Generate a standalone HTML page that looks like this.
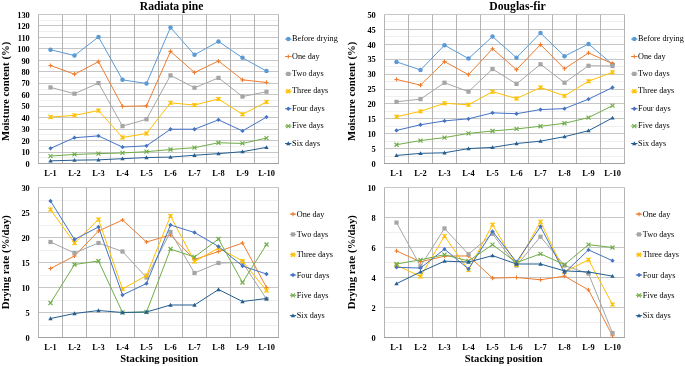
<!DOCTYPE html>
<html><head><meta charset="utf-8"><title>Chart</title>
<style>
html,body{margin:0;padding:0;background:#fff;}
svg{display:block;will-change:transform;}
text{font-family:"Liberation Serif", serif;fill:#000;}
</style></head>
<body>
<svg width="685" height="366" viewBox="0 0 685 366">
<rect width="685" height="366" fill="#fff"/>
<line x1="38.5" x2="278.5" y1="157.50" y2="157.50" stroke="#efefef" stroke-width="1"/>
<line x1="38.5" x2="278.5" y1="146.50" y2="146.50" stroke="#efefef" stroke-width="1"/>
<line x1="38.5" x2="278.5" y1="134.50" y2="134.50" stroke="#efefef" stroke-width="1"/>
<line x1="38.5" x2="278.5" y1="123.50" y2="123.50" stroke="#efefef" stroke-width="1"/>
<line x1="38.5" x2="278.5" y1="111.50" y2="111.50" stroke="#efefef" stroke-width="1"/>
<line x1="38.5" x2="278.5" y1="100.50" y2="100.50" stroke="#efefef" stroke-width="1"/>
<line x1="38.5" x2="278.5" y1="89.50" y2="89.50" stroke="#efefef" stroke-width="1"/>
<line x1="38.5" x2="278.5" y1="77.50" y2="77.50" stroke="#efefef" stroke-width="1"/>
<line x1="38.5" x2="278.5" y1="66.50" y2="66.50" stroke="#efefef" stroke-width="1"/>
<line x1="38.5" x2="278.5" y1="54.50" y2="54.50" stroke="#efefef" stroke-width="1"/>
<line x1="38.5" x2="278.5" y1="43.50" y2="43.50" stroke="#efefef" stroke-width="1"/>
<line x1="38.5" x2="278.5" y1="31.50" y2="31.50" stroke="#efefef" stroke-width="1"/>
<line x1="38.5" x2="278.5" y1="20.50" y2="20.50" stroke="#efefef" stroke-width="1"/>
<line x1="38.5" x2="278.5" y1="152.50" y2="152.50" stroke="#c6c6c6" stroke-width="1"/>
<line x1="38.5" x2="278.5" y1="140.50" y2="140.50" stroke="#c6c6c6" stroke-width="1"/>
<line x1="38.5" x2="278.5" y1="129.50" y2="129.50" stroke="#c6c6c6" stroke-width="1"/>
<line x1="38.5" x2="278.5" y1="117.50" y2="117.50" stroke="#c6c6c6" stroke-width="1"/>
<line x1="38.5" x2="278.5" y1="106.50" y2="106.50" stroke="#c6c6c6" stroke-width="1"/>
<line x1="38.5" x2="278.5" y1="94.50" y2="94.50" stroke="#c6c6c6" stroke-width="1"/>
<line x1="38.5" x2="278.5" y1="83.50" y2="83.50" stroke="#c6c6c6" stroke-width="1"/>
<line x1="38.5" x2="278.5" y1="71.50" y2="71.50" stroke="#c6c6c6" stroke-width="1"/>
<line x1="38.5" x2="278.5" y1="60.50" y2="60.50" stroke="#c6c6c6" stroke-width="1"/>
<line x1="38.5" x2="278.5" y1="48.50" y2="48.50" stroke="#c6c6c6" stroke-width="1"/>
<line x1="38.5" x2="278.5" y1="37.50" y2="37.50" stroke="#c6c6c6" stroke-width="1"/>
<line x1="38.5" x2="278.5" y1="25.50" y2="25.50" stroke="#c6c6c6" stroke-width="1"/>
<line x1="38.5" x2="278.5" y1="14.50" y2="14.50" stroke="#c6c6c6" stroke-width="1"/>
<line x1="38.50" x2="38.50" y1="14.5" y2="163.5" stroke="#b4b4b4" stroke-width="1"/>
<line x1="62.50" x2="62.50" y1="14.5" y2="163.5" stroke="#b4b4b4" stroke-width="1"/>
<line x1="86.50" x2="86.50" y1="14.5" y2="163.5" stroke="#b4b4b4" stroke-width="1"/>
<line x1="110.50" x2="110.50" y1="14.5" y2="163.5" stroke="#b4b4b4" stroke-width="1"/>
<line x1="134.50" x2="134.50" y1="14.5" y2="163.5" stroke="#b4b4b4" stroke-width="1"/>
<line x1="158.50" x2="158.50" y1="14.5" y2="163.5" stroke="#b4b4b4" stroke-width="1"/>
<line x1="182.50" x2="182.50" y1="14.5" y2="163.5" stroke="#b4b4b4" stroke-width="1"/>
<line x1="206.50" x2="206.50" y1="14.5" y2="163.5" stroke="#b4b4b4" stroke-width="1"/>
<line x1="230.50" x2="230.50" y1="14.5" y2="163.5" stroke="#b4b4b4" stroke-width="1"/>
<line x1="254.50" x2="254.50" y1="14.5" y2="163.5" stroke="#b4b4b4" stroke-width="1"/>
<line x1="278.50" x2="278.50" y1="14.5" y2="163.5" stroke="#b4b4b4" stroke-width="1"/>
<line x1="38.0" x2="279.0" y1="163.5" y2="163.5" stroke="#a0a0a0" stroke-width="1"/>
<text x="29.8" y="166.70" text-anchor="end" font-size="8.4" font-weight="bold">0</text>
<text x="29.8" y="155.24" text-anchor="end" font-size="8.4" font-weight="bold">10</text>
<text x="29.8" y="143.78" text-anchor="end" font-size="8.4" font-weight="bold">20</text>
<text x="29.8" y="132.32" text-anchor="end" font-size="8.4" font-weight="bold">30</text>
<text x="29.8" y="120.85" text-anchor="end" font-size="8.4" font-weight="bold">40</text>
<text x="29.8" y="109.39" text-anchor="end" font-size="8.4" font-weight="bold">50</text>
<text x="29.8" y="97.93" text-anchor="end" font-size="8.4" font-weight="bold">60</text>
<text x="29.8" y="86.47" text-anchor="end" font-size="8.4" font-weight="bold">70</text>
<text x="29.8" y="75.01" text-anchor="end" font-size="8.4" font-weight="bold">80</text>
<text x="29.8" y="63.55" text-anchor="end" font-size="8.4" font-weight="bold">90</text>
<text x="29.8" y="52.08" text-anchor="end" font-size="8.4" font-weight="bold">100</text>
<text x="29.8" y="40.62" text-anchor="end" font-size="8.4" font-weight="bold">110</text>
<text x="29.8" y="29.16" text-anchor="end" font-size="8.4" font-weight="bold">120</text>
<text x="29.8" y="17.70" text-anchor="end" font-size="8.4" font-weight="bold">130</text>
<text x="50.50" y="175.8" text-anchor="middle" font-size="8.4" font-weight="bold">L-1</text>
<text x="74.50" y="175.8" text-anchor="middle" font-size="8.4" font-weight="bold">L-2</text>
<text x="98.50" y="175.8" text-anchor="middle" font-size="8.4" font-weight="bold">L-3</text>
<text x="122.50" y="175.8" text-anchor="middle" font-size="8.4" font-weight="bold">L-4</text>
<text x="146.50" y="175.8" text-anchor="middle" font-size="8.4" font-weight="bold">L-5</text>
<text x="170.50" y="175.8" text-anchor="middle" font-size="8.4" font-weight="bold">L-6</text>
<text x="194.50" y="175.8" text-anchor="middle" font-size="8.4" font-weight="bold">L-7</text>
<text x="218.50" y="175.8" text-anchor="middle" font-size="8.4" font-weight="bold">L-8</text>
<text x="242.50" y="175.8" text-anchor="middle" font-size="8.4" font-weight="bold">L-9</text>
<text x="266.50" y="175.8" text-anchor="middle" font-size="8.4" font-weight="bold">L-10</text>
<polyline points="50.50,49.69 74.50,55.53 98.50,36.96 122.50,79.83 146.50,83.50 170.50,27.45 194.50,54.84 218.50,41.43 242.50,57.82 266.50,71.12" fill="none" stroke="#5B9BD5" stroke-width="1" stroke-linejoin="round"/>
<circle cx="50.50" cy="49.69" r="2.25" fill="#5B9BD5"/>
<circle cx="74.50" cy="55.53" r="2.25" fill="#5B9BD5"/>
<circle cx="98.50" cy="36.96" r="2.25" fill="#5B9BD5"/>
<circle cx="122.50" cy="79.83" r="2.25" fill="#5B9BD5"/>
<circle cx="146.50" cy="83.50" r="2.25" fill="#5B9BD5"/>
<circle cx="170.50" cy="27.45" r="2.25" fill="#5B9BD5"/>
<circle cx="194.50" cy="54.84" r="2.25" fill="#5B9BD5"/>
<circle cx="218.50" cy="41.43" r="2.25" fill="#5B9BD5"/>
<circle cx="242.50" cy="57.82" r="2.25" fill="#5B9BD5"/>
<circle cx="266.50" cy="71.12" r="2.25" fill="#5B9BD5"/>
<polyline points="50.50,65.50 74.50,74.21 98.50,61.72 122.50,106.42 146.50,105.85 170.50,51.41 194.50,72.50 218.50,61.03 242.50,79.83 266.50,82.47" fill="none" stroke="#ED7D31" stroke-width="1" stroke-linejoin="round"/>
<path d="M48.40 65.50H52.60M50.50 63.40V67.60" stroke="#ED7D31" stroke-width="1.1" fill="none"/>
<path d="M72.40 74.21H76.60M74.50 72.11V76.31" stroke="#ED7D31" stroke-width="1.1" fill="none"/>
<path d="M96.40 61.72H100.60M98.50 59.62V63.82" stroke="#ED7D31" stroke-width="1.1" fill="none"/>
<path d="M120.40 106.42H124.60M122.50 104.32V108.52" stroke="#ED7D31" stroke-width="1.1" fill="none"/>
<path d="M144.40 105.85H148.60M146.50 103.75V107.95" stroke="#ED7D31" stroke-width="1.1" fill="none"/>
<path d="M168.40 51.41H172.60M170.50 49.31V53.51" stroke="#ED7D31" stroke-width="1.1" fill="none"/>
<path d="M192.40 72.50H196.60M194.50 70.40V74.60" stroke="#ED7D31" stroke-width="1.1" fill="none"/>
<path d="M216.40 61.03H220.60M218.50 58.93V63.13" stroke="#ED7D31" stroke-width="1.1" fill="none"/>
<path d="M240.40 79.83H244.60M242.50 77.73V81.93" stroke="#ED7D31" stroke-width="1.1" fill="none"/>
<path d="M264.40 82.47H268.60M266.50 80.37V84.57" stroke="#ED7D31" stroke-width="1.1" fill="none"/>
<polyline points="50.50,87.40 74.50,93.70 98.50,83.04 122.50,126.14 146.50,119.26 170.50,75.36 194.50,87.74 218.50,77.88 242.50,96.56 266.50,91.75" fill="none" stroke="#A5A5A5" stroke-width="1" stroke-linejoin="round"/>
<rect x="48.40" y="85.30" width="4.20" height="4.20" fill="#A5A5A5"/>
<rect x="72.40" y="91.60" width="4.20" height="4.20" fill="#A5A5A5"/>
<rect x="96.40" y="80.94" width="4.20" height="4.20" fill="#A5A5A5"/>
<rect x="120.40" y="124.04" width="4.20" height="4.20" fill="#A5A5A5"/>
<rect x="144.40" y="117.16" width="4.20" height="4.20" fill="#A5A5A5"/>
<rect x="168.40" y="73.26" width="4.20" height="4.20" fill="#A5A5A5"/>
<rect x="192.40" y="85.64" width="4.20" height="4.20" fill="#A5A5A5"/>
<rect x="216.40" y="75.78" width="4.20" height="4.20" fill="#A5A5A5"/>
<rect x="240.40" y="94.46" width="4.20" height="4.20" fill="#A5A5A5"/>
<rect x="264.40" y="89.65" width="4.20" height="4.20" fill="#A5A5A5"/>
<polyline points="50.50,117.08 74.50,115.36 98.50,110.55 122.50,137.48 146.50,133.47 170.50,102.87 194.50,105.05 218.50,98.97 242.50,114.33 266.50,101.95" fill="none" stroke="#FFC000" stroke-width="1" stroke-linejoin="round"/>
<path d="M48.50 115.08L52.50 119.08M52.50 115.08L48.50 119.08" stroke="#FFC000" stroke-width="1.3" fill="none"/><path d="M50.50 115.08V119.08" stroke="#FFC000" stroke-width="0.9" fill="none"/>
<path d="M72.50 113.36L76.50 117.36M76.50 113.36L72.50 117.36" stroke="#FFC000" stroke-width="1.3" fill="none"/><path d="M74.50 113.36V117.36" stroke="#FFC000" stroke-width="0.9" fill="none"/>
<path d="M96.50 108.55L100.50 112.55M100.50 108.55L96.50 112.55" stroke="#FFC000" stroke-width="1.3" fill="none"/><path d="M98.50 108.55V112.55" stroke="#FFC000" stroke-width="0.9" fill="none"/>
<path d="M120.50 135.48L124.50 139.48M124.50 135.48L120.50 139.48" stroke="#FFC000" stroke-width="1.3" fill="none"/><path d="M122.50 135.48V139.48" stroke="#FFC000" stroke-width="0.9" fill="none"/>
<path d="M144.50 131.47L148.50 135.47M148.50 131.47L144.50 135.47" stroke="#FFC000" stroke-width="1.3" fill="none"/><path d="M146.50 131.47V135.47" stroke="#FFC000" stroke-width="0.9" fill="none"/>
<path d="M168.50 100.87L172.50 104.87M172.50 100.87L168.50 104.87" stroke="#FFC000" stroke-width="1.3" fill="none"/><path d="M170.50 100.87V104.87" stroke="#FFC000" stroke-width="0.9" fill="none"/>
<path d="M192.50 103.05L196.50 107.05M196.50 103.05L192.50 107.05" stroke="#FFC000" stroke-width="1.3" fill="none"/><path d="M194.50 103.05V107.05" stroke="#FFC000" stroke-width="0.9" fill="none"/>
<path d="M216.50 96.97L220.50 100.97M220.50 96.97L216.50 100.97" stroke="#FFC000" stroke-width="1.3" fill="none"/><path d="M218.50 96.97V100.97" stroke="#FFC000" stroke-width="0.9" fill="none"/>
<path d="M240.50 112.33L244.50 116.33M244.50 112.33L240.50 116.33" stroke="#FFC000" stroke-width="1.3" fill="none"/><path d="M242.50 112.33V116.33" stroke="#FFC000" stroke-width="0.9" fill="none"/>
<path d="M264.50 99.95L268.50 103.95M268.50 99.95L264.50 103.95" stroke="#FFC000" stroke-width="1.3" fill="none"/><path d="M266.50 99.95V103.95" stroke="#FFC000" stroke-width="0.9" fill="none"/>
<polyline points="50.50,148.37 74.50,137.71 98.50,135.88 122.50,147.11 146.50,145.85 170.50,129.23 194.50,129.23 218.50,119.83 242.50,130.95 266.50,117.08" fill="none" stroke="#4472C4" stroke-width="1" stroke-linejoin="round"/>
<path d="M50.50 146.22L52.65 148.37L50.50 150.52L48.35 148.37Z" fill="#4472C4"/>
<path d="M74.50 135.56L76.65 137.71L74.50 139.86L72.35 137.71Z" fill="#4472C4"/>
<path d="M98.50 133.73L100.65 135.88L98.50 138.03L96.35 135.88Z" fill="#4472C4"/>
<path d="M122.50 144.96L124.65 147.11L122.50 149.26L120.35 147.11Z" fill="#4472C4"/>
<path d="M146.50 143.70L148.65 145.85L146.50 148.00L144.35 145.85Z" fill="#4472C4"/>
<path d="M170.50 127.08L172.65 129.23L170.50 131.38L168.35 129.23Z" fill="#4472C4"/>
<path d="M194.50 127.08L196.65 129.23L194.50 131.38L192.35 129.23Z" fill="#4472C4"/>
<path d="M218.50 117.68L220.65 119.83L218.50 121.98L216.35 119.83Z" fill="#4472C4"/>
<path d="M242.50 128.80L244.65 130.95L242.50 133.10L240.35 130.95Z" fill="#4472C4"/>
<path d="M266.50 114.93L268.65 117.08L266.50 119.23L264.35 117.08Z" fill="#4472C4"/>
<polyline points="50.50,156.05 74.50,154.45 98.50,153.64 122.50,152.96 146.50,151.69 170.50,149.52 194.50,147.68 218.50,142.75 242.50,143.44 266.50,138.06" fill="none" stroke="#70AD47" stroke-width="1" stroke-linejoin="round"/>
<path d="M48.50 154.05L52.50 158.05M52.50 154.05L48.50 158.05" stroke="#70AD47" stroke-width="1.15" fill="none"/>
<path d="M72.50 152.45L76.50 156.45M76.50 152.45L72.50 156.45" stroke="#70AD47" stroke-width="1.15" fill="none"/>
<path d="M96.50 151.64L100.50 155.64M100.50 151.64L96.50 155.64" stroke="#70AD47" stroke-width="1.15" fill="none"/>
<path d="M120.50 150.96L124.50 154.96M124.50 150.96L120.50 154.96" stroke="#70AD47" stroke-width="1.15" fill="none"/>
<path d="M144.50 149.69L148.50 153.69M148.50 149.69L144.50 153.69" stroke="#70AD47" stroke-width="1.15" fill="none"/>
<path d="M168.50 147.52L172.50 151.52M172.50 147.52L168.50 151.52" stroke="#70AD47" stroke-width="1.15" fill="none"/>
<path d="M192.50 145.68L196.50 149.68M196.50 145.68L192.50 149.68" stroke="#70AD47" stroke-width="1.15" fill="none"/>
<path d="M216.50 140.75L220.50 144.75M220.50 140.75L216.50 144.75" stroke="#70AD47" stroke-width="1.15" fill="none"/>
<path d="M240.50 141.44L244.50 145.44M244.50 141.44L240.50 145.44" stroke="#70AD47" stroke-width="1.15" fill="none"/>
<path d="M264.50 136.06L268.50 140.06M268.50 136.06L264.50 140.06" stroke="#70AD47" stroke-width="1.15" fill="none"/>
<polyline points="50.50,160.86 74.50,160.18 98.50,159.83 122.50,158.69 146.50,157.54 170.50,157.08 194.50,155.25 218.50,153.64 242.50,151.69 266.50,147.34" fill="none" stroke="#255E91" stroke-width="1" stroke-linejoin="round"/>
<path d="M50.50 158.66L52.70 162.51L48.30 162.51Z" fill="#255E91"/>
<path d="M74.50 157.98L76.70 161.83L72.30 161.83Z" fill="#255E91"/>
<path d="M98.50 157.63L100.70 161.48L96.30 161.48Z" fill="#255E91"/>
<path d="M122.50 156.49L124.70 160.34L120.30 160.34Z" fill="#255E91"/>
<path d="M146.50 155.34L148.70 159.19L144.30 159.19Z" fill="#255E91"/>
<path d="M170.50 154.88L172.70 158.73L168.30 158.73Z" fill="#255E91"/>
<path d="M194.50 153.05L196.70 156.90L192.30 156.90Z" fill="#255E91"/>
<path d="M218.50 151.44L220.70 155.29L216.30 155.29Z" fill="#255E91"/>
<path d="M242.50 149.49L244.70 153.34L240.30 153.34Z" fill="#255E91"/>
<path d="M266.50 145.14L268.70 148.99L264.30 148.99Z" fill="#255E91"/>
<line x1="285.10" x2="291.50" y1="39.10" y2="39.10" stroke="#5B9BD5" stroke-width="1"/>
<circle cx="288.30" cy="39.10" r="2.25" fill="#5B9BD5"/>
<text x="292.10" y="41.20" font-size="8.2">Before drying</text>
<line x1="285.10" x2="291.50" y1="56.50" y2="56.50" stroke="#ED7D31" stroke-width="1"/>
<path d="M286.20 56.50H290.40M288.30 54.40V58.60" stroke="#ED7D31" stroke-width="1.1" fill="none"/>
<text x="292.10" y="58.60" font-size="8.2">One day</text>
<line x1="285.10" x2="291.50" y1="73.90" y2="73.90" stroke="#A5A5A5" stroke-width="1"/>
<rect x="286.20" y="71.80" width="4.20" height="4.20" fill="#A5A5A5"/>
<text x="292.10" y="76.00" font-size="8.2">Two days</text>
<line x1="285.10" x2="291.50" y1="91.30" y2="91.30" stroke="#FFC000" stroke-width="1"/>
<path d="M286.30 89.30L290.30 93.30M290.30 89.30L286.30 93.30" stroke="#FFC000" stroke-width="1.3" fill="none"/><path d="M288.30 89.30V93.30" stroke="#FFC000" stroke-width="0.9" fill="none"/>
<text x="292.10" y="93.40" font-size="8.2">Three days</text>
<line x1="285.10" x2="291.50" y1="108.70" y2="108.70" stroke="#4472C4" stroke-width="1"/>
<path d="M288.30 106.40L290.60 108.70L288.30 111.00L286.00 108.70Z" fill="#4472C4"/>
<text x="292.10" y="110.80" font-size="8.2">Four days</text>
<line x1="285.10" x2="291.50" y1="126.10" y2="126.10" stroke="#70AD47" stroke-width="1"/>
<path d="M286.30 124.10L290.30 128.10M290.30 124.10L286.30 128.10" stroke="#70AD47" stroke-width="1.15" fill="none"/>
<text x="292.10" y="128.20" font-size="8.2">Five days</text>
<line x1="285.10" x2="291.50" y1="143.50" y2="143.50" stroke="#255E91" stroke-width="1"/>
<path d="M288.30 141.30L290.50 145.15L286.10 145.15Z" fill="#255E91"/>
<text x="292.10" y="145.60" font-size="8.2">Six days</text>
<text x="171.6" y="10.2" text-anchor="middle" font-size="11.65" font-weight="bold">Radiata pine</text>
<text transform="translate(9.3,91.3) rotate(-90)" x="0" y="0" text-anchor="middle" font-size="10.8" font-weight="bold">Moisture content (%)</text>
<line x1="384.5" x2="624.5" y1="156.50" y2="156.50" stroke="#efefef" stroke-width="1"/>
<line x1="384.5" x2="624.5" y1="141.50" y2="141.50" stroke="#efefef" stroke-width="1"/>
<line x1="384.5" x2="624.5" y1="126.50" y2="126.50" stroke="#efefef" stroke-width="1"/>
<line x1="384.5" x2="624.5" y1="111.50" y2="111.50" stroke="#efefef" stroke-width="1"/>
<line x1="384.5" x2="624.5" y1="96.50" y2="96.50" stroke="#efefef" stroke-width="1"/>
<line x1="384.5" x2="624.5" y1="81.50" y2="81.50" stroke="#efefef" stroke-width="1"/>
<line x1="384.5" x2="624.5" y1="66.50" y2="66.50" stroke="#efefef" stroke-width="1"/>
<line x1="384.5" x2="624.5" y1="51.50" y2="51.50" stroke="#efefef" stroke-width="1"/>
<line x1="384.5" x2="624.5" y1="36.50" y2="36.50" stroke="#efefef" stroke-width="1"/>
<line x1="384.5" x2="624.5" y1="21.50" y2="21.50" stroke="#efefef" stroke-width="1"/>
<line x1="384.5" x2="624.5" y1="148.50" y2="148.50" stroke="#c6c6c6" stroke-width="1"/>
<line x1="384.5" x2="624.5" y1="133.50" y2="133.50" stroke="#c6c6c6" stroke-width="1"/>
<line x1="384.5" x2="624.5" y1="118.50" y2="118.50" stroke="#c6c6c6" stroke-width="1"/>
<line x1="384.5" x2="624.5" y1="103.50" y2="103.50" stroke="#c6c6c6" stroke-width="1"/>
<line x1="384.5" x2="624.5" y1="89.50" y2="89.50" stroke="#c6c6c6" stroke-width="1"/>
<line x1="384.5" x2="624.5" y1="74.50" y2="74.50" stroke="#c6c6c6" stroke-width="1"/>
<line x1="384.5" x2="624.5" y1="59.50" y2="59.50" stroke="#c6c6c6" stroke-width="1"/>
<line x1="384.5" x2="624.5" y1="44.50" y2="44.50" stroke="#c6c6c6" stroke-width="1"/>
<line x1="384.5" x2="624.5" y1="29.50" y2="29.50" stroke="#c6c6c6" stroke-width="1"/>
<line x1="384.5" x2="624.5" y1="14.50" y2="14.50" stroke="#c6c6c6" stroke-width="1"/>
<line x1="384.50" x2="384.50" y1="14.5" y2="163.5" stroke="#b4b4b4" stroke-width="1"/>
<line x1="408.50" x2="408.50" y1="14.5" y2="163.5" stroke="#b4b4b4" stroke-width="1"/>
<line x1="432.50" x2="432.50" y1="14.5" y2="163.5" stroke="#b4b4b4" stroke-width="1"/>
<line x1="456.50" x2="456.50" y1="14.5" y2="163.5" stroke="#b4b4b4" stroke-width="1"/>
<line x1="480.50" x2="480.50" y1="14.5" y2="163.5" stroke="#b4b4b4" stroke-width="1"/>
<line x1="504.50" x2="504.50" y1="14.5" y2="163.5" stroke="#b4b4b4" stroke-width="1"/>
<line x1="528.50" x2="528.50" y1="14.5" y2="163.5" stroke="#b4b4b4" stroke-width="1"/>
<line x1="552.50" x2="552.50" y1="14.5" y2="163.5" stroke="#b4b4b4" stroke-width="1"/>
<line x1="576.50" x2="576.50" y1="14.5" y2="163.5" stroke="#b4b4b4" stroke-width="1"/>
<line x1="600.50" x2="600.50" y1="14.5" y2="163.5" stroke="#b4b4b4" stroke-width="1"/>
<line x1="624.50" x2="624.50" y1="14.5" y2="163.5" stroke="#b4b4b4" stroke-width="1"/>
<line x1="384.0" x2="625.0" y1="163.5" y2="163.5" stroke="#a0a0a0" stroke-width="1"/>
<text x="375.8" y="166.70" text-anchor="end" font-size="8.4" font-weight="bold">0</text>
<text x="375.8" y="151.80" text-anchor="end" font-size="8.4" font-weight="bold">5</text>
<text x="375.8" y="136.90" text-anchor="end" font-size="8.4" font-weight="bold">10</text>
<text x="375.8" y="122.00" text-anchor="end" font-size="8.4" font-weight="bold">15</text>
<text x="375.8" y="107.10" text-anchor="end" font-size="8.4" font-weight="bold">20</text>
<text x="375.8" y="92.20" text-anchor="end" font-size="8.4" font-weight="bold">25</text>
<text x="375.8" y="77.30" text-anchor="end" font-size="8.4" font-weight="bold">30</text>
<text x="375.8" y="62.40" text-anchor="end" font-size="8.4" font-weight="bold">35</text>
<text x="375.8" y="47.50" text-anchor="end" font-size="8.4" font-weight="bold">40</text>
<text x="375.8" y="32.60" text-anchor="end" font-size="8.4" font-weight="bold">45</text>
<text x="375.8" y="17.70" text-anchor="end" font-size="8.4" font-weight="bold">50</text>
<text x="396.50" y="175.8" text-anchor="middle" font-size="8.4" font-weight="bold">L-1</text>
<text x="420.50" y="175.8" text-anchor="middle" font-size="8.4" font-weight="bold">L-2</text>
<text x="444.50" y="175.8" text-anchor="middle" font-size="8.4" font-weight="bold">L-3</text>
<text x="468.50" y="175.8" text-anchor="middle" font-size="8.4" font-weight="bold">L-4</text>
<text x="492.50" y="175.8" text-anchor="middle" font-size="8.4" font-weight="bold">L-5</text>
<text x="516.50" y="175.8" text-anchor="middle" font-size="8.4" font-weight="bold">L-6</text>
<text x="540.50" y="175.8" text-anchor="middle" font-size="8.4" font-weight="bold">L-7</text>
<text x="564.50" y="175.8" text-anchor="middle" font-size="8.4" font-weight="bold">L-8</text>
<text x="588.50" y="175.8" text-anchor="middle" font-size="8.4" font-weight="bold">L-9</text>
<text x="612.50" y="175.8" text-anchor="middle" font-size="8.4" font-weight="bold">L-10</text>
<polyline points="396.50,61.88 420.50,69.93 444.50,45.19 468.50,58.60 492.50,36.55 516.50,57.71 540.50,32.98 564.50,56.22 588.50,44.00 612.50,64.27" fill="none" stroke="#5B9BD5" stroke-width="1" stroke-linejoin="round"/>
<circle cx="396.50" cy="61.88" r="2.25" fill="#5B9BD5"/>
<circle cx="420.50" cy="69.93" r="2.25" fill="#5B9BD5"/>
<circle cx="444.50" cy="45.19" r="2.25" fill="#5B9BD5"/>
<circle cx="468.50" cy="58.60" r="2.25" fill="#5B9BD5"/>
<circle cx="492.50" cy="36.55" r="2.25" fill="#5B9BD5"/>
<circle cx="516.50" cy="57.71" r="2.25" fill="#5B9BD5"/>
<circle cx="540.50" cy="32.98" r="2.25" fill="#5B9BD5"/>
<circle cx="564.50" cy="56.22" r="2.25" fill="#5B9BD5"/>
<circle cx="588.50" cy="44.00" r="2.25" fill="#5B9BD5"/>
<circle cx="612.50" cy="64.27" r="2.25" fill="#5B9BD5"/>
<polyline points="396.50,79.46 420.50,85.13 444.50,61.58 468.50,74.70 492.50,48.77 516.50,69.63 540.50,44.60 564.50,68.74 588.50,52.94 612.50,63.67" fill="none" stroke="#ED7D31" stroke-width="1" stroke-linejoin="round"/>
<path d="M394.40 79.46H398.60M396.50 77.36V81.56" stroke="#ED7D31" stroke-width="1.1" fill="none"/>
<path d="M418.40 85.13H422.60M420.50 83.03V87.23" stroke="#ED7D31" stroke-width="1.1" fill="none"/>
<path d="M442.40 61.58H446.60M444.50 59.48V63.68" stroke="#ED7D31" stroke-width="1.1" fill="none"/>
<path d="M466.40 74.70H470.60M468.50 72.60V76.80" stroke="#ED7D31" stroke-width="1.1" fill="none"/>
<path d="M490.40 48.77H494.60M492.50 46.67V50.87" stroke="#ED7D31" stroke-width="1.1" fill="none"/>
<path d="M514.40 69.63H518.60M516.50 67.53V71.73" stroke="#ED7D31" stroke-width="1.1" fill="none"/>
<path d="M538.40 44.60H542.60M540.50 42.50V46.70" stroke="#ED7D31" stroke-width="1.1" fill="none"/>
<path d="M562.40 68.74H566.60M564.50 66.64V70.84" stroke="#ED7D31" stroke-width="1.1" fill="none"/>
<path d="M586.40 52.94H590.60M588.50 50.84V55.04" stroke="#ED7D31" stroke-width="1.1" fill="none"/>
<path d="M610.40 63.67H614.60M612.50 61.57V65.77" stroke="#ED7D31" stroke-width="1.1" fill="none"/>
<polyline points="396.50,101.81 420.50,99.13 444.50,82.74 468.50,91.68 492.50,69.03 516.50,83.93 540.50,64.27 564.50,82.74 588.50,65.76 612.50,66.05" fill="none" stroke="#A5A5A5" stroke-width="1" stroke-linejoin="round"/>
<rect x="394.40" y="99.71" width="4.20" height="4.20" fill="#A5A5A5"/>
<rect x="418.40" y="97.03" width="4.20" height="4.20" fill="#A5A5A5"/>
<rect x="442.40" y="80.64" width="4.20" height="4.20" fill="#A5A5A5"/>
<rect x="466.40" y="89.58" width="4.20" height="4.20" fill="#A5A5A5"/>
<rect x="490.40" y="66.93" width="4.20" height="4.20" fill="#A5A5A5"/>
<rect x="514.40" y="81.83" width="4.20" height="4.20" fill="#A5A5A5"/>
<rect x="538.40" y="62.17" width="4.20" height="4.20" fill="#A5A5A5"/>
<rect x="562.40" y="80.64" width="4.20" height="4.20" fill="#A5A5A5"/>
<rect x="586.40" y="63.66" width="4.20" height="4.20" fill="#A5A5A5"/>
<rect x="610.40" y="63.95" width="4.20" height="4.20" fill="#A5A5A5"/>
<polyline points="396.50,116.71 420.50,111.35 444.50,103.30 468.50,104.79 492.50,91.68 516.50,98.54 540.50,87.51 564.50,95.85 588.50,81.25 612.50,72.31" fill="none" stroke="#FFC000" stroke-width="1" stroke-linejoin="round"/>
<path d="M394.50 114.71L398.50 118.71M398.50 114.71L394.50 118.71" stroke="#FFC000" stroke-width="1.3" fill="none"/><path d="M396.50 114.71V118.71" stroke="#FFC000" stroke-width="0.9" fill="none"/>
<path d="M418.50 109.35L422.50 113.35M422.50 109.35L418.50 113.35" stroke="#FFC000" stroke-width="1.3" fill="none"/><path d="M420.50 109.35V113.35" stroke="#FFC000" stroke-width="0.9" fill="none"/>
<path d="M442.50 101.30L446.50 105.30M446.50 101.30L442.50 105.30" stroke="#FFC000" stroke-width="1.3" fill="none"/><path d="M444.50 101.30V105.30" stroke="#FFC000" stroke-width="0.9" fill="none"/>
<path d="M466.50 102.79L470.50 106.79M470.50 102.79L466.50 106.79" stroke="#FFC000" stroke-width="1.3" fill="none"/><path d="M468.50 102.79V106.79" stroke="#FFC000" stroke-width="0.9" fill="none"/>
<path d="M490.50 89.68L494.50 93.68M494.50 89.68L490.50 93.68" stroke="#FFC000" stroke-width="1.3" fill="none"/><path d="M492.50 89.68V93.68" stroke="#FFC000" stroke-width="0.9" fill="none"/>
<path d="M514.50 96.54L518.50 100.54M518.50 96.54L514.50 100.54" stroke="#FFC000" stroke-width="1.3" fill="none"/><path d="M516.50 96.54V100.54" stroke="#FFC000" stroke-width="0.9" fill="none"/>
<path d="M538.50 85.51L542.50 89.51M542.50 85.51L538.50 89.51" stroke="#FFC000" stroke-width="1.3" fill="none"/><path d="M540.50 85.51V89.51" stroke="#FFC000" stroke-width="0.9" fill="none"/>
<path d="M562.50 93.85L566.50 97.85M566.50 93.85L562.50 97.85" stroke="#FFC000" stroke-width="1.3" fill="none"/><path d="M564.50 93.85V97.85" stroke="#FFC000" stroke-width="0.9" fill="none"/>
<path d="M586.50 79.25L590.50 83.25M590.50 79.25L586.50 83.25" stroke="#FFC000" stroke-width="1.3" fill="none"/><path d="M588.50 79.25V83.25" stroke="#FFC000" stroke-width="0.9" fill="none"/>
<path d="M610.50 70.31L614.50 74.31M614.50 70.31L610.50 74.31" stroke="#FFC000" stroke-width="1.3" fill="none"/><path d="M612.50 70.31V74.31" stroke="#FFC000" stroke-width="0.9" fill="none"/>
<polyline points="396.50,130.42 420.50,124.76 444.50,120.89 468.50,118.80 492.50,112.84 516.50,113.73 540.50,109.56 564.50,108.67 588.50,99.13 612.50,87.51" fill="none" stroke="#4472C4" stroke-width="1" stroke-linejoin="round"/>
<path d="M396.50 128.27L398.65 130.42L396.50 132.57L394.35 130.42Z" fill="#4472C4"/>
<path d="M420.50 122.61L422.65 124.76L420.50 126.91L418.35 124.76Z" fill="#4472C4"/>
<path d="M444.50 118.74L446.65 120.89L444.50 123.04L442.35 120.89Z" fill="#4472C4"/>
<path d="M468.50 116.65L470.65 118.80L468.50 120.95L466.35 118.80Z" fill="#4472C4"/>
<path d="M492.50 110.69L494.65 112.84L492.50 114.99L490.35 112.84Z" fill="#4472C4"/>
<path d="M516.50 111.58L518.65 113.73L516.50 115.88L514.35 113.73Z" fill="#4472C4"/>
<path d="M540.50 107.41L542.65 109.56L540.50 111.71L538.35 109.56Z" fill="#4472C4"/>
<path d="M564.50 106.52L566.65 108.67L564.50 110.82L562.35 108.67Z" fill="#4472C4"/>
<path d="M588.50 96.98L590.65 99.13L588.50 101.28L586.35 99.13Z" fill="#4472C4"/>
<path d="M612.50 85.36L614.65 87.51L612.50 89.66L610.35 87.51Z" fill="#4472C4"/>
<polyline points="396.50,144.73 420.50,140.55 444.50,137.57 468.50,133.40 492.50,131.02 516.50,128.93 540.50,126.25 564.50,123.27 588.50,117.61 612.50,105.69" fill="none" stroke="#70AD47" stroke-width="1" stroke-linejoin="round"/>
<path d="M394.50 142.73L398.50 146.73M398.50 142.73L394.50 146.73" stroke="#70AD47" stroke-width="1.15" fill="none"/>
<path d="M418.50 138.55L422.50 142.55M422.50 138.55L418.50 142.55" stroke="#70AD47" stroke-width="1.15" fill="none"/>
<path d="M442.50 135.57L446.50 139.57M446.50 135.57L442.50 139.57" stroke="#70AD47" stroke-width="1.15" fill="none"/>
<path d="M466.50 131.40L470.50 135.40M470.50 131.40L466.50 135.40" stroke="#70AD47" stroke-width="1.15" fill="none"/>
<path d="M490.50 129.02L494.50 133.02M494.50 129.02L490.50 133.02" stroke="#70AD47" stroke-width="1.15" fill="none"/>
<path d="M514.50 126.93L518.50 130.93M518.50 126.93L514.50 130.93" stroke="#70AD47" stroke-width="1.15" fill="none"/>
<path d="M538.50 124.25L542.50 128.25M542.50 124.25L538.50 128.25" stroke="#70AD47" stroke-width="1.15" fill="none"/>
<path d="M562.50 121.27L566.50 125.27M566.50 121.27L562.50 125.27" stroke="#70AD47" stroke-width="1.15" fill="none"/>
<path d="M586.50 115.61L590.50 119.61M590.50 115.61L586.50 119.61" stroke="#70AD47" stroke-width="1.15" fill="none"/>
<path d="M610.50 103.69L614.50 107.69M614.50 103.69L610.50 107.69" stroke="#70AD47" stroke-width="1.15" fill="none"/>
<polyline points="396.50,155.45 420.50,153.37 444.50,152.77 468.50,148.60 492.50,147.41 516.50,143.53 540.50,141.15 564.50,136.68 588.50,130.72 612.50,117.91" fill="none" stroke="#255E91" stroke-width="1" stroke-linejoin="round"/>
<path d="M396.50 153.25L398.70 157.10L394.30 157.10Z" fill="#255E91"/>
<path d="M420.50 151.17L422.70 155.02L418.30 155.02Z" fill="#255E91"/>
<path d="M444.50 150.57L446.70 154.42L442.30 154.42Z" fill="#255E91"/>
<path d="M468.50 146.40L470.70 150.25L466.30 150.25Z" fill="#255E91"/>
<path d="M492.50 145.21L494.70 149.06L490.30 149.06Z" fill="#255E91"/>
<path d="M516.50 141.33L518.70 145.18L514.30 145.18Z" fill="#255E91"/>
<path d="M540.50 138.95L542.70 142.80L538.30 142.80Z" fill="#255E91"/>
<path d="M564.50 134.48L566.70 138.33L562.30 138.33Z" fill="#255E91"/>
<path d="M588.50 128.52L590.70 132.37L586.30 132.37Z" fill="#255E91"/>
<path d="M612.50 115.71L614.70 119.56L610.30 119.56Z" fill="#255E91"/>
<line x1="631.10" x2="637.50" y1="39.10" y2="39.10" stroke="#5B9BD5" stroke-width="1"/>
<circle cx="634.30" cy="39.10" r="2.25" fill="#5B9BD5"/>
<text x="638.10" y="41.20" font-size="8.2">Before drying</text>
<line x1="631.10" x2="637.50" y1="56.50" y2="56.50" stroke="#ED7D31" stroke-width="1"/>
<path d="M632.20 56.50H636.40M634.30 54.40V58.60" stroke="#ED7D31" stroke-width="1.1" fill="none"/>
<text x="638.10" y="58.60" font-size="8.2">One day</text>
<line x1="631.10" x2="637.50" y1="73.90" y2="73.90" stroke="#A5A5A5" stroke-width="1"/>
<rect x="632.20" y="71.80" width="4.20" height="4.20" fill="#A5A5A5"/>
<text x="638.10" y="76.00" font-size="8.2">Two days</text>
<line x1="631.10" x2="637.50" y1="91.30" y2="91.30" stroke="#FFC000" stroke-width="1"/>
<path d="M632.30 89.30L636.30 93.30M636.30 89.30L632.30 93.30" stroke="#FFC000" stroke-width="1.3" fill="none"/><path d="M634.30 89.30V93.30" stroke="#FFC000" stroke-width="0.9" fill="none"/>
<text x="638.10" y="93.40" font-size="8.2">Three days</text>
<line x1="631.10" x2="637.50" y1="108.70" y2="108.70" stroke="#4472C4" stroke-width="1"/>
<path d="M634.30 106.40L636.60 108.70L634.30 111.00L632.00 108.70Z" fill="#4472C4"/>
<text x="638.10" y="110.80" font-size="8.2">Four days</text>
<line x1="631.10" x2="637.50" y1="126.10" y2="126.10" stroke="#70AD47" stroke-width="1"/>
<path d="M632.30 124.10L636.30 128.10M636.30 124.10L632.30 128.10" stroke="#70AD47" stroke-width="1.15" fill="none"/>
<text x="638.10" y="128.20" font-size="8.2">Five days</text>
<line x1="631.10" x2="637.50" y1="143.50" y2="143.50" stroke="#255E91" stroke-width="1"/>
<path d="M634.30 141.30L636.50 145.15L632.10 145.15Z" fill="#255E91"/>
<text x="638.10" y="145.60" font-size="8.2">Six days</text>
<text x="517.5" y="10.2" text-anchor="middle" font-size="11.65" font-weight="bold">Douglas-fir</text>
<text transform="translate(355.3,91.3) rotate(-90)" x="0" y="0" text-anchor="middle" font-size="10.8" font-weight="bold">Moisture content (%)</text>
<line x1="38.5" x2="278.5" y1="325.50" y2="325.50" stroke="#efefef" stroke-width="1"/>
<line x1="38.5" x2="278.5" y1="300.50" y2="300.50" stroke="#efefef" stroke-width="1"/>
<line x1="38.5" x2="278.5" y1="275.50" y2="275.50" stroke="#efefef" stroke-width="1"/>
<line x1="38.5" x2="278.5" y1="250.50" y2="250.50" stroke="#efefef" stroke-width="1"/>
<line x1="38.5" x2="278.5" y1="225.50" y2="225.50" stroke="#efefef" stroke-width="1"/>
<line x1="38.5" x2="278.5" y1="200.50" y2="200.50" stroke="#efefef" stroke-width="1"/>
<line x1="38.5" x2="278.5" y1="312.50" y2="312.50" stroke="#c6c6c6" stroke-width="1"/>
<line x1="38.5" x2="278.5" y1="287.50" y2="287.50" stroke="#c6c6c6" stroke-width="1"/>
<line x1="38.5" x2="278.5" y1="262.50" y2="262.50" stroke="#c6c6c6" stroke-width="1"/>
<line x1="38.5" x2="278.5" y1="237.50" y2="237.50" stroke="#c6c6c6" stroke-width="1"/>
<line x1="38.5" x2="278.5" y1="212.50" y2="212.50" stroke="#c6c6c6" stroke-width="1"/>
<line x1="38.5" x2="278.5" y1="187.50" y2="187.50" stroke="#c6c6c6" stroke-width="1"/>
<line x1="38.50" x2="38.50" y1="187.5" y2="337.5" stroke="#b4b4b4" stroke-width="1"/>
<line x1="62.50" x2="62.50" y1="187.5" y2="337.5" stroke="#b4b4b4" stroke-width="1"/>
<line x1="86.50" x2="86.50" y1="187.5" y2="337.5" stroke="#b4b4b4" stroke-width="1"/>
<line x1="110.50" x2="110.50" y1="187.5" y2="337.5" stroke="#b4b4b4" stroke-width="1"/>
<line x1="134.50" x2="134.50" y1="187.5" y2="337.5" stroke="#b4b4b4" stroke-width="1"/>
<line x1="158.50" x2="158.50" y1="187.5" y2="337.5" stroke="#b4b4b4" stroke-width="1"/>
<line x1="182.50" x2="182.50" y1="187.5" y2="337.5" stroke="#b4b4b4" stroke-width="1"/>
<line x1="206.50" x2="206.50" y1="187.5" y2="337.5" stroke="#b4b4b4" stroke-width="1"/>
<line x1="230.50" x2="230.50" y1="187.5" y2="337.5" stroke="#b4b4b4" stroke-width="1"/>
<line x1="254.50" x2="254.50" y1="187.5" y2="337.5" stroke="#b4b4b4" stroke-width="1"/>
<line x1="278.50" x2="278.50" y1="187.5" y2="337.5" stroke="#b4b4b4" stroke-width="1"/>
<line x1="38.0" x2="279.0" y1="337.5" y2="337.5" stroke="#a0a0a0" stroke-width="1"/>
<text x="29.8" y="340.70" text-anchor="end" font-size="8.4" font-weight="bold">0</text>
<text x="29.8" y="315.70" text-anchor="end" font-size="8.4" font-weight="bold">5</text>
<text x="29.8" y="290.70" text-anchor="end" font-size="8.4" font-weight="bold">10</text>
<text x="29.8" y="265.70" text-anchor="end" font-size="8.4" font-weight="bold">15</text>
<text x="29.8" y="240.70" text-anchor="end" font-size="8.4" font-weight="bold">20</text>
<text x="29.8" y="215.70" text-anchor="end" font-size="8.4" font-weight="bold">25</text>
<text x="29.8" y="190.70" text-anchor="end" font-size="8.4" font-weight="bold">30</text>
<text x="50.50" y="349.9" text-anchor="middle" font-size="8.4" font-weight="bold">L-1</text>
<text x="74.50" y="349.9" text-anchor="middle" font-size="8.4" font-weight="bold">L-2</text>
<text x="98.50" y="349.9" text-anchor="middle" font-size="8.4" font-weight="bold">L-3</text>
<text x="122.50" y="349.9" text-anchor="middle" font-size="8.4" font-weight="bold">L-4</text>
<text x="146.50" y="349.9" text-anchor="middle" font-size="8.4" font-weight="bold">L-5</text>
<text x="170.50" y="349.9" text-anchor="middle" font-size="8.4" font-weight="bold">L-6</text>
<text x="194.50" y="349.9" text-anchor="middle" font-size="8.4" font-weight="bold">L-7</text>
<text x="218.50" y="349.9" text-anchor="middle" font-size="8.4" font-weight="bold">L-8</text>
<text x="242.50" y="349.9" text-anchor="middle" font-size="8.4" font-weight="bold">L-9</text>
<text x="266.50" y="349.9" text-anchor="middle" font-size="8.4" font-weight="bold">L-10</text>
<polyline points="50.50,268.50 74.50,256.00 98.50,231.00 122.50,220.00 146.50,242.00 170.50,235.00 194.50,259.50 218.50,251.50 242.50,243.00 266.50,287.50" fill="none" stroke="#ED7D31" stroke-width="1" stroke-linejoin="round"/>
<path d="M48.40 268.50H52.60M50.50 266.40V270.60" stroke="#ED7D31" stroke-width="1.1" fill="none"/>
<path d="M72.40 256.00H76.60M74.50 253.90V258.10" stroke="#ED7D31" stroke-width="1.1" fill="none"/>
<path d="M96.40 231.00H100.60M98.50 228.90V233.10" stroke="#ED7D31" stroke-width="1.1" fill="none"/>
<path d="M120.40 220.00H124.60M122.50 217.90V222.10" stroke="#ED7D31" stroke-width="1.1" fill="none"/>
<path d="M144.40 242.00H148.60M146.50 239.90V244.10" stroke="#ED7D31" stroke-width="1.1" fill="none"/>
<path d="M168.40 235.00H172.60M170.50 232.90V237.10" stroke="#ED7D31" stroke-width="1.1" fill="none"/>
<path d="M192.40 259.50H196.60M194.50 257.40V261.60" stroke="#ED7D31" stroke-width="1.1" fill="none"/>
<path d="M216.40 251.50H220.60M218.50 249.40V253.60" stroke="#ED7D31" stroke-width="1.1" fill="none"/>
<path d="M240.40 243.00H244.60M242.50 240.90V245.10" stroke="#ED7D31" stroke-width="1.1" fill="none"/>
<path d="M264.40 287.50H268.60M266.50 285.40V289.60" stroke="#ED7D31" stroke-width="1.1" fill="none"/>
<polyline points="50.50,242.00 74.50,253.00 98.50,243.00 122.50,251.50 146.50,277.50 170.50,232.00 194.50,273.00 218.50,263.00 242.50,262.50 266.50,299.00" fill="none" stroke="#A5A5A5" stroke-width="1" stroke-linejoin="round"/>
<rect x="48.40" y="239.90" width="4.20" height="4.20" fill="#A5A5A5"/>
<rect x="72.40" y="250.90" width="4.20" height="4.20" fill="#A5A5A5"/>
<rect x="96.40" y="240.90" width="4.20" height="4.20" fill="#A5A5A5"/>
<rect x="120.40" y="249.40" width="4.20" height="4.20" fill="#A5A5A5"/>
<rect x="144.40" y="275.40" width="4.20" height="4.20" fill="#A5A5A5"/>
<rect x="168.40" y="229.90" width="4.20" height="4.20" fill="#A5A5A5"/>
<rect x="192.40" y="270.90" width="4.20" height="4.20" fill="#A5A5A5"/>
<rect x="216.40" y="260.90" width="4.20" height="4.20" fill="#A5A5A5"/>
<rect x="240.40" y="260.40" width="4.20" height="4.20" fill="#A5A5A5"/>
<rect x="264.40" y="296.90" width="4.20" height="4.20" fill="#A5A5A5"/>
<polyline points="50.50,209.50 74.50,243.00 98.50,219.50 122.50,289.00 146.50,275.50 170.50,216.00 194.50,261.50 218.50,248.00 242.50,261.00 266.50,290.50" fill="none" stroke="#FFC000" stroke-width="1" stroke-linejoin="round"/>
<path d="M48.50 207.50L52.50 211.50M52.50 207.50L48.50 211.50" stroke="#FFC000" stroke-width="1.3" fill="none"/><path d="M50.50 207.50V211.50" stroke="#FFC000" stroke-width="0.9" fill="none"/>
<path d="M72.50 241.00L76.50 245.00M76.50 241.00L72.50 245.00" stroke="#FFC000" stroke-width="1.3" fill="none"/><path d="M74.50 241.00V245.00" stroke="#FFC000" stroke-width="0.9" fill="none"/>
<path d="M96.50 217.50L100.50 221.50M100.50 217.50L96.50 221.50" stroke="#FFC000" stroke-width="1.3" fill="none"/><path d="M98.50 217.50V221.50" stroke="#FFC000" stroke-width="0.9" fill="none"/>
<path d="M120.50 287.00L124.50 291.00M124.50 287.00L120.50 291.00" stroke="#FFC000" stroke-width="1.3" fill="none"/><path d="M122.50 287.00V291.00" stroke="#FFC000" stroke-width="0.9" fill="none"/>
<path d="M144.50 273.50L148.50 277.50M148.50 273.50L144.50 277.50" stroke="#FFC000" stroke-width="1.3" fill="none"/><path d="M146.50 273.50V277.50" stroke="#FFC000" stroke-width="0.9" fill="none"/>
<path d="M168.50 214.00L172.50 218.00M172.50 214.00L168.50 218.00" stroke="#FFC000" stroke-width="1.3" fill="none"/><path d="M170.50 214.00V218.00" stroke="#FFC000" stroke-width="0.9" fill="none"/>
<path d="M192.50 259.50L196.50 263.50M196.50 259.50L192.50 263.50" stroke="#FFC000" stroke-width="1.3" fill="none"/><path d="M194.50 259.50V263.50" stroke="#FFC000" stroke-width="0.9" fill="none"/>
<path d="M216.50 246.00L220.50 250.00M220.50 246.00L216.50 250.00" stroke="#FFC000" stroke-width="1.3" fill="none"/><path d="M218.50 246.00V250.00" stroke="#FFC000" stroke-width="0.9" fill="none"/>
<path d="M240.50 259.00L244.50 263.00M244.50 259.00L240.50 263.00" stroke="#FFC000" stroke-width="1.3" fill="none"/><path d="M242.50 259.00V263.00" stroke="#FFC000" stroke-width="0.9" fill="none"/>
<path d="M264.50 288.50L268.50 292.50M268.50 288.50L264.50 292.50" stroke="#FFC000" stroke-width="1.3" fill="none"/><path d="M266.50 288.50V292.50" stroke="#FFC000" stroke-width="0.9" fill="none"/>
<polyline points="50.50,201.00 74.50,239.50 98.50,227.00 122.50,295.00 146.50,283.50 170.50,225.00 194.50,232.50 218.50,246.50 242.50,266.00 266.50,274.00" fill="none" stroke="#4472C4" stroke-width="1" stroke-linejoin="round"/>
<path d="M50.50 198.85L52.65 201.00L50.50 203.15L48.35 201.00Z" fill="#4472C4"/>
<path d="M74.50 237.35L76.65 239.50L74.50 241.65L72.35 239.50Z" fill="#4472C4"/>
<path d="M98.50 224.85L100.65 227.00L98.50 229.15L96.35 227.00Z" fill="#4472C4"/>
<path d="M122.50 292.85L124.65 295.00L122.50 297.15L120.35 295.00Z" fill="#4472C4"/>
<path d="M146.50 281.35L148.65 283.50L146.50 285.65L144.35 283.50Z" fill="#4472C4"/>
<path d="M170.50 222.85L172.65 225.00L170.50 227.15L168.35 225.00Z" fill="#4472C4"/>
<path d="M194.50 230.35L196.65 232.50L194.50 234.65L192.35 232.50Z" fill="#4472C4"/>
<path d="M218.50 244.35L220.65 246.50L218.50 248.65L216.35 246.50Z" fill="#4472C4"/>
<path d="M242.50 263.85L244.65 266.00L242.50 268.15L240.35 266.00Z" fill="#4472C4"/>
<path d="M266.50 271.85L268.65 274.00L266.50 276.15L264.35 274.00Z" fill="#4472C4"/>
<polyline points="50.50,303.00 74.50,264.50 98.50,261.00 122.50,312.50 146.50,312.00 170.50,249.00 194.50,257.00 218.50,239.00 242.50,282.50 266.50,244.50" fill="none" stroke="#70AD47" stroke-width="1" stroke-linejoin="round"/>
<path d="M48.50 301.00L52.50 305.00M52.50 301.00L48.50 305.00" stroke="#70AD47" stroke-width="1.15" fill="none"/>
<path d="M72.50 262.50L76.50 266.50M76.50 262.50L72.50 266.50" stroke="#70AD47" stroke-width="1.15" fill="none"/>
<path d="M96.50 259.00L100.50 263.00M100.50 259.00L96.50 263.00" stroke="#70AD47" stroke-width="1.15" fill="none"/>
<path d="M120.50 310.50L124.50 314.50M124.50 310.50L120.50 314.50" stroke="#70AD47" stroke-width="1.15" fill="none"/>
<path d="M144.50 310.00L148.50 314.00M148.50 310.00L144.50 314.00" stroke="#70AD47" stroke-width="1.15" fill="none"/>
<path d="M168.50 247.00L172.50 251.00M172.50 247.00L168.50 251.00" stroke="#70AD47" stroke-width="1.15" fill="none"/>
<path d="M192.50 255.00L196.50 259.00M196.50 255.00L192.50 259.00" stroke="#70AD47" stroke-width="1.15" fill="none"/>
<path d="M216.50 237.00L220.50 241.00M220.50 237.00L216.50 241.00" stroke="#70AD47" stroke-width="1.15" fill="none"/>
<path d="M240.50 280.50L244.50 284.50M244.50 280.50L240.50 284.50" stroke="#70AD47" stroke-width="1.15" fill="none"/>
<path d="M264.50 242.50L268.50 246.50M268.50 242.50L264.50 246.50" stroke="#70AD47" stroke-width="1.15" fill="none"/>
<polyline points="50.50,318.50 74.50,313.50 98.50,310.50 122.50,312.50 146.50,312.00 170.50,305.00 194.50,305.00 218.50,289.50 242.50,301.50 266.50,298.50" fill="none" stroke="#255E91" stroke-width="1" stroke-linejoin="round"/>
<path d="M50.50 316.30L52.70 320.15L48.30 320.15Z" fill="#255E91"/>
<path d="M74.50 311.30L76.70 315.15L72.30 315.15Z" fill="#255E91"/>
<path d="M98.50 308.30L100.70 312.15L96.30 312.15Z" fill="#255E91"/>
<path d="M122.50 310.30L124.70 314.15L120.30 314.15Z" fill="#255E91"/>
<path d="M146.50 309.80L148.70 313.65L144.30 313.65Z" fill="#255E91"/>
<path d="M170.50 302.80L172.70 306.65L168.30 306.65Z" fill="#255E91"/>
<path d="M194.50 302.80L196.70 306.65L192.30 306.65Z" fill="#255E91"/>
<path d="M218.50 287.30L220.70 291.15L216.30 291.15Z" fill="#255E91"/>
<path d="M242.50 299.30L244.70 303.15L240.30 303.15Z" fill="#255E91"/>
<path d="M266.50 296.30L268.70 300.15L264.30 300.15Z" fill="#255E91"/>
<line x1="289.80" x2="296.20" y1="214.10" y2="214.10" stroke="#ED7D31" stroke-width="1"/>
<path d="M290.90 214.10H295.10M293.00 212.00V216.20" stroke="#ED7D31" stroke-width="1.1" fill="none"/>
<text x="296.80" y="216.60" font-size="8.2">One day</text>
<line x1="289.80" x2="296.20" y1="234.40" y2="234.40" stroke="#A5A5A5" stroke-width="1"/>
<rect x="290.90" y="232.30" width="4.20" height="4.20" fill="#A5A5A5"/>
<text x="296.80" y="236.90" font-size="8.2">Two days</text>
<line x1="289.80" x2="296.20" y1="254.70" y2="254.70" stroke="#FFC000" stroke-width="1"/>
<path d="M291.00 252.70L295.00 256.70M295.00 252.70L291.00 256.70" stroke="#FFC000" stroke-width="1.3" fill="none"/><path d="M293.00 252.70V256.70" stroke="#FFC000" stroke-width="0.9" fill="none"/>
<text x="296.80" y="257.20" font-size="8.2">Three days</text>
<line x1="289.80" x2="296.20" y1="275.00" y2="275.00" stroke="#4472C4" stroke-width="1"/>
<path d="M293.00 272.70L295.30 275.00L293.00 277.30L290.70 275.00Z" fill="#4472C4"/>
<text x="296.80" y="277.50" font-size="8.2">Four days</text>
<line x1="289.80" x2="296.20" y1="295.30" y2="295.30" stroke="#70AD47" stroke-width="1"/>
<path d="M291.00 293.30L295.00 297.30M295.00 293.30L291.00 297.30" stroke="#70AD47" stroke-width="1.15" fill="none"/>
<text x="296.80" y="297.80" font-size="8.2">Five days</text>
<line x1="289.80" x2="296.20" y1="315.60" y2="315.60" stroke="#255E91" stroke-width="1"/>
<path d="M293.00 313.40L295.20 317.25L290.80 317.25Z" fill="#255E91"/>
<text x="296.80" y="318.10" font-size="8.2">Six days</text>
<text transform="translate(9.3,262.2) rotate(-90)" x="0" y="0" text-anchor="middle" font-size="10.8" font-weight="bold">Drying rate (%/day)</text>
<text x="159.2" y="362.2" text-anchor="middle" font-size="10.6" font-weight="bold">Stacking position</text>
<line x1="384.5" x2="624.5" y1="322.50" y2="322.50" stroke="#efefef" stroke-width="1"/>
<line x1="384.5" x2="624.5" y1="292.50" y2="292.50" stroke="#efefef" stroke-width="1"/>
<line x1="384.5" x2="624.5" y1="262.50" y2="262.50" stroke="#efefef" stroke-width="1"/>
<line x1="384.5" x2="624.5" y1="232.50" y2="232.50" stroke="#efefef" stroke-width="1"/>
<line x1="384.5" x2="624.5" y1="202.50" y2="202.50" stroke="#efefef" stroke-width="1"/>
<line x1="384.5" x2="624.5" y1="307.50" y2="307.50" stroke="#c6c6c6" stroke-width="1"/>
<line x1="384.5" x2="624.5" y1="277.50" y2="277.50" stroke="#c6c6c6" stroke-width="1"/>
<line x1="384.5" x2="624.5" y1="247.50" y2="247.50" stroke="#c6c6c6" stroke-width="1"/>
<line x1="384.5" x2="624.5" y1="217.50" y2="217.50" stroke="#c6c6c6" stroke-width="1"/>
<line x1="384.5" x2="624.5" y1="187.50" y2="187.50" stroke="#c6c6c6" stroke-width="1"/>
<line x1="384.50" x2="384.50" y1="187.5" y2="337.5" stroke="#b4b4b4" stroke-width="1"/>
<line x1="408.50" x2="408.50" y1="187.5" y2="337.5" stroke="#b4b4b4" stroke-width="1"/>
<line x1="432.50" x2="432.50" y1="187.5" y2="337.5" stroke="#b4b4b4" stroke-width="1"/>
<line x1="456.50" x2="456.50" y1="187.5" y2="337.5" stroke="#b4b4b4" stroke-width="1"/>
<line x1="480.50" x2="480.50" y1="187.5" y2="337.5" stroke="#b4b4b4" stroke-width="1"/>
<line x1="504.50" x2="504.50" y1="187.5" y2="337.5" stroke="#b4b4b4" stroke-width="1"/>
<line x1="528.50" x2="528.50" y1="187.5" y2="337.5" stroke="#b4b4b4" stroke-width="1"/>
<line x1="552.50" x2="552.50" y1="187.5" y2="337.5" stroke="#b4b4b4" stroke-width="1"/>
<line x1="576.50" x2="576.50" y1="187.5" y2="337.5" stroke="#b4b4b4" stroke-width="1"/>
<line x1="600.50" x2="600.50" y1="187.5" y2="337.5" stroke="#b4b4b4" stroke-width="1"/>
<line x1="624.50" x2="624.50" y1="187.5" y2="337.5" stroke="#b4b4b4" stroke-width="1"/>
<line x1="384.0" x2="625.0" y1="337.5" y2="337.5" stroke="#a0a0a0" stroke-width="1"/>
<text x="375.8" y="340.70" text-anchor="end" font-size="8.4" font-weight="bold">0</text>
<text x="375.8" y="310.70" text-anchor="end" font-size="8.4" font-weight="bold">2</text>
<text x="375.8" y="280.70" text-anchor="end" font-size="8.4" font-weight="bold">4</text>
<text x="375.8" y="250.70" text-anchor="end" font-size="8.4" font-weight="bold">6</text>
<text x="375.8" y="220.70" text-anchor="end" font-size="8.4" font-weight="bold">8</text>
<text x="375.8" y="190.70" text-anchor="end" font-size="8.4" font-weight="bold">10</text>
<text x="396.50" y="349.9" text-anchor="middle" font-size="8.4" font-weight="bold">L-1</text>
<text x="420.50" y="349.9" text-anchor="middle" font-size="8.4" font-weight="bold">L-2</text>
<text x="444.50" y="349.9" text-anchor="middle" font-size="8.4" font-weight="bold">L-3</text>
<text x="468.50" y="349.9" text-anchor="middle" font-size="8.4" font-weight="bold">L-4</text>
<text x="492.50" y="349.9" text-anchor="middle" font-size="8.4" font-weight="bold">L-5</text>
<text x="516.50" y="349.9" text-anchor="middle" font-size="8.4" font-weight="bold">L-6</text>
<text x="540.50" y="349.9" text-anchor="middle" font-size="8.4" font-weight="bold">L-7</text>
<text x="564.50" y="349.9" text-anchor="middle" font-size="8.4" font-weight="bold">L-8</text>
<text x="588.50" y="349.9" text-anchor="middle" font-size="8.4" font-weight="bold">L-9</text>
<text x="612.50" y="349.9" text-anchor="middle" font-size="8.4" font-weight="bold">L-10</text>
<polyline points="396.50,250.95 420.50,261.75 444.50,256.20 468.50,255.90 492.50,278.10 516.50,277.50 540.50,279.75 564.50,276.15 588.50,289.95 612.50,335.70" fill="none" stroke="#ED7D31" stroke-width="1" stroke-linejoin="round"/>
<path d="M394.40 250.95H398.60M396.50 248.85V253.05" stroke="#ED7D31" stroke-width="1.1" fill="none"/>
<path d="M418.40 261.75H422.60M420.50 259.65V263.85" stroke="#ED7D31" stroke-width="1.1" fill="none"/>
<path d="M442.40 256.20H446.60M444.50 254.10V258.30" stroke="#ED7D31" stroke-width="1.1" fill="none"/>
<path d="M466.40 255.90H470.60M468.50 253.80V258.00" stroke="#ED7D31" stroke-width="1.1" fill="none"/>
<path d="M490.40 278.10H494.60M492.50 276.00V280.20" stroke="#ED7D31" stroke-width="1.1" fill="none"/>
<path d="M514.40 277.50H518.60M516.50 275.40V279.60" stroke="#ED7D31" stroke-width="1.1" fill="none"/>
<path d="M538.40 279.75H542.60M540.50 277.65V281.85" stroke="#ED7D31" stroke-width="1.1" fill="none"/>
<path d="M562.40 276.15H566.60M564.50 274.05V278.25" stroke="#ED7D31" stroke-width="1.1" fill="none"/>
<path d="M586.40 289.95H590.60M588.50 287.85V292.05" stroke="#ED7D31" stroke-width="1.1" fill="none"/>
<path d="M610.40 335.70H614.60M612.50 333.60V337.80" stroke="#ED7D31" stroke-width="1.1" fill="none"/>
<polyline points="396.50,222.60 420.50,266.25 444.50,228.45 468.50,254.25 492.50,233.85 516.50,265.50 540.50,236.70 564.50,265.50 588.50,273.60 612.50,333.00" fill="none" stroke="#A5A5A5" stroke-width="1" stroke-linejoin="round"/>
<rect x="394.40" y="220.50" width="4.20" height="4.20" fill="#A5A5A5"/>
<rect x="418.40" y="264.15" width="4.20" height="4.20" fill="#A5A5A5"/>
<rect x="442.40" y="226.35" width="4.20" height="4.20" fill="#A5A5A5"/>
<rect x="466.40" y="252.15" width="4.20" height="4.20" fill="#A5A5A5"/>
<rect x="490.40" y="231.75" width="4.20" height="4.20" fill="#A5A5A5"/>
<rect x="514.40" y="263.40" width="4.20" height="4.20" fill="#A5A5A5"/>
<rect x="538.40" y="234.60" width="4.20" height="4.20" fill="#A5A5A5"/>
<rect x="562.40" y="263.40" width="4.20" height="4.20" fill="#A5A5A5"/>
<rect x="586.40" y="271.50" width="4.20" height="4.20" fill="#A5A5A5"/>
<rect x="610.40" y="330.90" width="4.20" height="4.20" fill="#A5A5A5"/>
<polyline points="396.50,265.20 420.50,276.45 444.50,236.10 468.50,270.00 492.50,224.70 516.50,264.75 540.50,221.70 564.50,271.95 588.50,259.80 612.50,304.50" fill="none" stroke="#FFC000" stroke-width="1" stroke-linejoin="round"/>
<path d="M394.50 263.20L398.50 267.20M398.50 263.20L394.50 267.20" stroke="#FFC000" stroke-width="1.3" fill="none"/><path d="M396.50 263.20V267.20" stroke="#FFC000" stroke-width="0.9" fill="none"/>
<path d="M418.50 274.45L422.50 278.45M422.50 274.45L418.50 278.45" stroke="#FFC000" stroke-width="1.3" fill="none"/><path d="M420.50 274.45V278.45" stroke="#FFC000" stroke-width="0.9" fill="none"/>
<path d="M442.50 234.10L446.50 238.10M446.50 234.10L442.50 238.10" stroke="#FFC000" stroke-width="1.3" fill="none"/><path d="M444.50 234.10V238.10" stroke="#FFC000" stroke-width="0.9" fill="none"/>
<path d="M466.50 268.00L470.50 272.00M470.50 268.00L466.50 272.00" stroke="#FFC000" stroke-width="1.3" fill="none"/><path d="M468.50 268.00V272.00" stroke="#FFC000" stroke-width="0.9" fill="none"/>
<path d="M490.50 222.70L494.50 226.70M494.50 222.70L490.50 226.70" stroke="#FFC000" stroke-width="1.3" fill="none"/><path d="M492.50 222.70V226.70" stroke="#FFC000" stroke-width="0.9" fill="none"/>
<path d="M514.50 262.75L518.50 266.75M518.50 262.75L514.50 266.75" stroke="#FFC000" stroke-width="1.3" fill="none"/><path d="M516.50 262.75V266.75" stroke="#FFC000" stroke-width="0.9" fill="none"/>
<path d="M538.50 219.70L542.50 223.70M542.50 219.70L538.50 223.70" stroke="#FFC000" stroke-width="1.3" fill="none"/><path d="M540.50 219.70V223.70" stroke="#FFC000" stroke-width="0.9" fill="none"/>
<path d="M562.50 269.95L566.50 273.95M566.50 269.95L562.50 273.95" stroke="#FFC000" stroke-width="1.3" fill="none"/><path d="M564.50 269.95V273.95" stroke="#FFC000" stroke-width="0.9" fill="none"/>
<path d="M586.50 257.80L590.50 261.80M590.50 257.80L586.50 261.80" stroke="#FFC000" stroke-width="1.3" fill="none"/><path d="M588.50 257.80V261.80" stroke="#FFC000" stroke-width="0.9" fill="none"/>
<path d="M610.50 302.50L614.50 306.50M614.50 302.50L610.50 306.50" stroke="#FFC000" stroke-width="1.3" fill="none"/><path d="M612.50 302.50V306.50" stroke="#FFC000" stroke-width="0.9" fill="none"/>
<polyline points="396.50,267.30 420.50,268.05 444.50,249.15 468.50,268.95 492.50,231.45 516.50,261.90 540.50,226.50 564.50,272.85 588.50,249.90 612.50,260.70" fill="none" stroke="#4472C4" stroke-width="1" stroke-linejoin="round"/>
<path d="M396.50 265.15L398.65 267.30L396.50 269.45L394.35 267.30Z" fill="#4472C4"/>
<path d="M420.50 265.90L422.65 268.05L420.50 270.20L418.35 268.05Z" fill="#4472C4"/>
<path d="M444.50 247.00L446.65 249.15L444.50 251.30L442.35 249.15Z" fill="#4472C4"/>
<path d="M468.50 266.80L470.65 268.95L468.50 271.10L466.35 268.95Z" fill="#4472C4"/>
<path d="M492.50 229.30L494.65 231.45L492.50 233.60L490.35 231.45Z" fill="#4472C4"/>
<path d="M516.50 259.75L518.65 261.90L516.50 264.05L514.35 261.90Z" fill="#4472C4"/>
<path d="M540.50 224.35L542.65 226.50L540.50 228.65L538.35 226.50Z" fill="#4472C4"/>
<path d="M564.50 270.70L566.65 272.85L564.50 275.00L562.35 272.85Z" fill="#4472C4"/>
<path d="M588.50 247.75L590.65 249.90L588.50 252.05L586.35 249.90Z" fill="#4472C4"/>
<path d="M612.50 258.55L614.65 260.70L612.50 262.85L610.35 260.70Z" fill="#4472C4"/>
<polyline points="396.50,264.00 420.50,259.80 444.50,254.70 468.50,261.00 492.50,244.65 516.50,262.65 540.50,253.80 564.50,264.60 588.50,244.65 612.50,247.50" fill="none" stroke="#70AD47" stroke-width="1" stroke-linejoin="round"/>
<path d="M394.50 262.00L398.50 266.00M398.50 262.00L394.50 266.00" stroke="#70AD47" stroke-width="1.15" fill="none"/>
<path d="M418.50 257.80L422.50 261.80M422.50 257.80L418.50 261.80" stroke="#70AD47" stroke-width="1.15" fill="none"/>
<path d="M442.50 252.70L446.50 256.70M446.50 252.70L442.50 256.70" stroke="#70AD47" stroke-width="1.15" fill="none"/>
<path d="M466.50 259.00L470.50 263.00M470.50 259.00L466.50 263.00" stroke="#70AD47" stroke-width="1.15" fill="none"/>
<path d="M490.50 242.65L494.50 246.65M494.50 242.65L490.50 246.65" stroke="#70AD47" stroke-width="1.15" fill="none"/>
<path d="M514.50 260.65L518.50 264.65M518.50 260.65L514.50 264.65" stroke="#70AD47" stroke-width="1.15" fill="none"/>
<path d="M538.50 251.80L542.50 255.80M542.50 251.80L538.50 255.80" stroke="#70AD47" stroke-width="1.15" fill="none"/>
<path d="M562.50 262.60L566.50 266.60M566.50 262.60L562.50 266.60" stroke="#70AD47" stroke-width="1.15" fill="none"/>
<path d="M586.50 242.65L590.50 246.65M590.50 242.65L586.50 246.65" stroke="#70AD47" stroke-width="1.15" fill="none"/>
<path d="M610.50 245.50L614.50 249.50M614.50 245.50L610.50 249.50" stroke="#70AD47" stroke-width="1.15" fill="none"/>
<polyline points="396.50,283.65 420.50,271.95 444.50,261.15 468.50,262.05 492.50,255.60 516.50,264.00 540.50,264.00 564.50,270.90 588.50,271.95 612.50,276.15" fill="none" stroke="#255E91" stroke-width="1" stroke-linejoin="round"/>
<path d="M396.50 281.45L398.70 285.30L394.30 285.30Z" fill="#255E91"/>
<path d="M420.50 269.75L422.70 273.60L418.30 273.60Z" fill="#255E91"/>
<path d="M444.50 258.95L446.70 262.80L442.30 262.80Z" fill="#255E91"/>
<path d="M468.50 259.85L470.70 263.70L466.30 263.70Z" fill="#255E91"/>
<path d="M492.50 253.40L494.70 257.25L490.30 257.25Z" fill="#255E91"/>
<path d="M516.50 261.80L518.70 265.65L514.30 265.65Z" fill="#255E91"/>
<path d="M540.50 261.80L542.70 265.65L538.30 265.65Z" fill="#255E91"/>
<path d="M564.50 268.70L566.70 272.55L562.30 272.55Z" fill="#255E91"/>
<path d="M588.50 269.75L590.70 273.60L586.30 273.60Z" fill="#255E91"/>
<path d="M612.50 273.95L614.70 277.80L610.30 277.80Z" fill="#255E91"/>
<line x1="635.80" x2="642.20" y1="214.10" y2="214.10" stroke="#ED7D31" stroke-width="1"/>
<path d="M636.90 214.10H641.10M639.00 212.00V216.20" stroke="#ED7D31" stroke-width="1.1" fill="none"/>
<text x="642.80" y="216.60" font-size="8.2">One day</text>
<line x1="635.80" x2="642.20" y1="234.40" y2="234.40" stroke="#A5A5A5" stroke-width="1"/>
<rect x="636.90" y="232.30" width="4.20" height="4.20" fill="#A5A5A5"/>
<text x="642.80" y="236.90" font-size="8.2">Two days</text>
<line x1="635.80" x2="642.20" y1="254.70" y2="254.70" stroke="#FFC000" stroke-width="1"/>
<path d="M637.00 252.70L641.00 256.70M641.00 252.70L637.00 256.70" stroke="#FFC000" stroke-width="1.3" fill="none"/><path d="M639.00 252.70V256.70" stroke="#FFC000" stroke-width="0.9" fill="none"/>
<text x="642.80" y="257.20" font-size="8.2">Three days</text>
<line x1="635.80" x2="642.20" y1="275.00" y2="275.00" stroke="#4472C4" stroke-width="1"/>
<path d="M639.00 272.70L641.30 275.00L639.00 277.30L636.70 275.00Z" fill="#4472C4"/>
<text x="642.80" y="277.50" font-size="8.2">Four days</text>
<line x1="635.80" x2="642.20" y1="295.30" y2="295.30" stroke="#70AD47" stroke-width="1"/>
<path d="M637.00 293.30L641.00 297.30M641.00 293.30L637.00 297.30" stroke="#70AD47" stroke-width="1.15" fill="none"/>
<text x="642.80" y="297.80" font-size="8.2">Five days</text>
<line x1="635.80" x2="642.20" y1="315.60" y2="315.60" stroke="#255E91" stroke-width="1"/>
<path d="M639.00 313.40L641.20 317.25L636.80 317.25Z" fill="#255E91"/>
<text x="642.80" y="318.10" font-size="8.2">Six days</text>
<text transform="translate(355.3,262.2) rotate(-90)" x="0" y="0" text-anchor="middle" font-size="10.8" font-weight="bold">Drying rate (%/day)</text>
<text x="503.7" y="362.2" text-anchor="middle" font-size="10.6" font-weight="bold">Stacking position</text>
</svg>
</body></html>
